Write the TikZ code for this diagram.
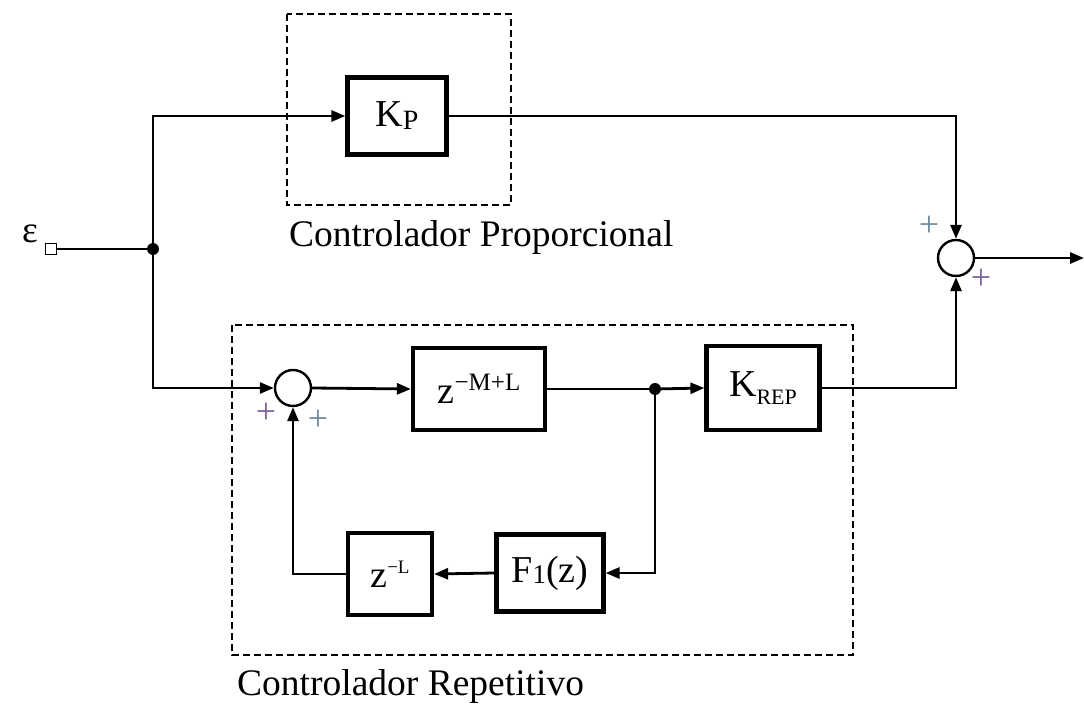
\documentclass[tikz,border=0pt]{standalone}
\usepackage{fontspec}
\setmainfont{Liberation Serif}
\usetikzlibrary{arrows.meta}
\begin{document}
\begin{tikzpicture}[x=1pt,y=-1pt,
  blk/.style={draw,line width=4.2pt,minimum width=#1,inner sep=0pt,font=\fontsize{38}{38}\selectfont},
  wire/.style={line width=2.8pt},
  arr/.style={wire,-{Triangle[length=14pt,width=11pt]}},
  sumc/.style={draw,circle,line width=2.4pt,minimum size=36pt,inner sep=0pt},
  dot/.style={circle,fill,inner sep=0pt,minimum size=12pt},
  dbox/.style={line width=1.8pt,dash pattern=on 7pt off 4pt},
  lbl/.style={font=\fontsize{37.5}{37.5}\selectfont,inner sep=0pt},
  plusA/.style={font=\fontsize{36}{36}\selectfont,inner sep=0pt,text={rgb,255:red,110;green,140;blue,160}},
  plusB/.style={font=\fontsize{36}{36}\selectfont,inner sep=0pt,text={rgb,255:red,125;green,100;blue,150}}]
\useasboundingbox (0,0) rectangle (1084,711);
% dashed boxes
\draw[dbox] (287,14) rectangle (511,205);
\draw[dbox] (232,325) rectangle (853,655);
% labels
\node[lbl,anchor=west] (lp) at (289,237) {Controlador Proporcional};
\node[lbl,anchor=west] (lr) at (237,686) {Controlador Repetitivo};
\node[lbl] (eps) at (30,234) {ε};
% nodes
\node[draw,line width=1.6pt,minimum size=11pt,inner sep=0pt] (in) at (51,249) {};
\node[dot] (j1) at (153,249) {};
\node[blk=99pt,minimum height=77pt] (kp) at (397,116) {K\raisebox{-3pt}{\fontsize{28}{28}\selectfont P}};
\node[sumc] (s2) at (956,258) {};
\coordinate (out) at (1084,258);
\node[sumc] (s1) at (293,388) {};
\node[blk=132pt,minimum height=82pt] (zml) at (479,389) {z\raisebox{13pt}{\fontsize{25}{25}\selectfont −M+L}};
\node[dot] (j2) at (655,389) {};
\node[blk=113pt,minimum height=84pt] (krep) at (763,388) {K\raisebox{-8pt}{\fontsize{22}{22}\selectfont REP}};
\node[blk=107pt,minimum height=77pt] (f1) at (550,573) {F\raisebox{-1pt}{\fontsize{27}{27}\selectfont 1}(z)};
\node[blk=84pt,minimum height=82pt] (zl) at (390,574) {z\raisebox{14pt}{\fontsize{19}{19}\selectfont −L}};
% connectors
\draw[wire] (in) -- (j1);
\draw[arr] (j1) |- (kp.west);
\draw[arr] (j1) |- (s1.west);
\draw[arr] (kp.east) -| (s2.north);
\draw[arr] (s2.east) -- (out);
\draw[arr] (s1.east) -- (zml.west);
\draw[wire] (zml.east) -- (j2);
\draw[arr] (j2) -- (krep.west);
\draw[arr] (krep.east) -| (s2.south);
\draw[arr] (j2) |- (f1.east);
\draw[arr] (f1.west) -- (zl.east);
\draw[arr] (zl.west) -| (s1.south);
% signs
\node[plusA] (p1) at (929,226) {+};
\node[plusB] (p2) at (981,279) {+};
\node[plusB] (p3) at (266,413) {+};
\node[plusA] (p4) at (318,420) {+};
\end{tikzpicture}
\end{document}
